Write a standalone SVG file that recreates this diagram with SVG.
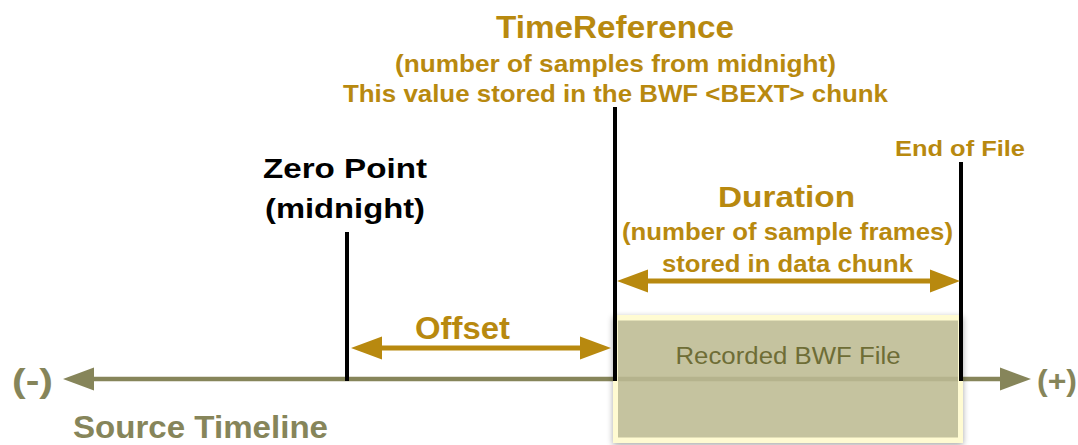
<svg xmlns="http://www.w3.org/2000/svg" width="1078" height="445" viewBox="0 0 1078 445">
<style>
.gold{fill:#b8890f;font-family:"Liberation Sans",Arial,sans-serif;font-weight:bold}
.olive{fill:#86855a;font-family:"Liberation Sans",Arial,sans-serif;font-weight:bold}
.blk{fill:#000;font-family:"Liberation Sans",Arial,sans-serif;font-weight:bold}
.tick{stroke:#000;stroke-width:4;fill:none}
.garrow{stroke:#b8890f;stroke-width:5;fill:none}
</style>
<defs>
<filter id="sh" x="-10%" y="-10%" width="120%" height="130%">
<feGaussianBlur in="SourceAlpha" stdDeviation="3"/>
<feOffset dx="0" dy="2" result="b"/>
<feComponentTransfer><feFuncA type="linear" slope="0.35"/></feComponentTransfer>
<feMerge><feMergeNode/><feMergeNode in="SourceGraphic"/></feMerge>
</filter>
</defs>
<rect width="1078" height="445" fill="#fff"/>

<g id="timeline">
<line x1="90" y1="379" x2="1003" y2="379" stroke="#86855a" stroke-width="4.5"/>
<polygon points="63,379 94,367.5 94,390.5" fill="#86855a"/>
<polygon points="1031,379 1000,367.5 1000,390.5" fill="#86855a"/>
<text class="olive" x="12" y="392" font-size="33" textLength="41" lengthAdjust="spacingAndGlyphs">(-)</text>
<text class="olive" x="1037" y="391" font-size="30" textLength="40" lengthAdjust="spacingAndGlyphs">(+)</text>
<text class="olive" x="73" y="438" font-size="31" textLength="255" lengthAdjust="spacingAndGlyphs">Source Timeline</text>
</g>

<g id="bwf-file">
<rect x="615" y="317" width="346" height="124" fill="#fffbd2" stroke="#fffbd2" stroke-width="4" filter="url(#sh)"/>
<rect x="618" y="320.5" width="340" height="117" fill="#b8b694" fill-opacity="0.82"/>
<line x1="618" y1="379" x2="958" y2="379" stroke="#86855a" stroke-width="4.5" opacity="0.25"/>
<text x="788" y="364" font-family="'Liberation Sans',Arial,sans-serif" font-size="23" fill="#6e6d36" text-anchor="middle" textLength="225" lengthAdjust="spacingAndGlyphs">Recorded BWF File</text>
</g>

<g id="zero-point">
<line class="tick" x1="347" y1="232" x2="347" y2="381"/>
<text class="blk" x="345" y="178" font-size="28" text-anchor="middle" textLength="164" lengthAdjust="spacingAndGlyphs">Zero Point</text>
<text class="blk" x="345" y="218" font-size="28" text-anchor="middle" textLength="160" lengthAdjust="spacingAndGlyphs">(midnight)</text>
</g>

<g id="time-reference">
<line class="tick" x1="615" y1="107" x2="615" y2="381"/>
<text class="gold" x="615" y="38" font-size="32" text-anchor="middle" textLength="238" lengthAdjust="spacingAndGlyphs">TimeReference</text>
<text class="gold" x="615.5" y="72" font-size="24" text-anchor="middle" textLength="441" lengthAdjust="spacingAndGlyphs">(number of samples from midnight)</text>
<text class="gold" x="615.5" y="102" font-size="24" text-anchor="middle" textLength="545" lengthAdjust="spacingAndGlyphs">This value stored in the BWF &lt;BEXT&gt; chunk</text>
</g>

<g id="end-of-file">
<line class="tick" x1="961" y1="162" x2="961" y2="381"/>
<text class="gold" x="895" y="156" font-size="22" textLength="130" lengthAdjust="spacingAndGlyphs">End of File</text>
</g>

<g id="duration">
<text class="gold" x="786.5" y="207" font-size="30" text-anchor="middle" textLength="137" lengthAdjust="spacingAndGlyphs">Duration</text>
<text class="gold" x="787.5" y="240" font-size="24" text-anchor="middle" textLength="331" lengthAdjust="spacingAndGlyphs">(number of sample frames)</text>
<text class="gold" x="787.5" y="272" font-size="24" text-anchor="middle" textLength="251" lengthAdjust="spacingAndGlyphs">stored in data chunk</text>
</g>

<g id="offset">
<text class="gold" x="462.5" y="339" font-size="31" text-anchor="middle" textLength="95" lengthAdjust="spacingAndGlyphs">Offset</text>
</g>

<g id="connectors">
<line class="garrow" x1="378" y1="348" x2="584" y2="348"/>
<polygon points="351,348 382,336.5 382,359.5" fill="#b8890f"/>
<polygon points="611,348 580,336.5 580,359.5" fill="#b8890f"/>
<line class="garrow" x1="644" y1="281" x2="934" y2="281"/>
<polygon points="617,281 648,269.5 648,292.5" fill="#b8890f"/>
<polygon points="960,281 930,269.5 930,292.5" fill="#b8890f"/>
</g>
</svg>
